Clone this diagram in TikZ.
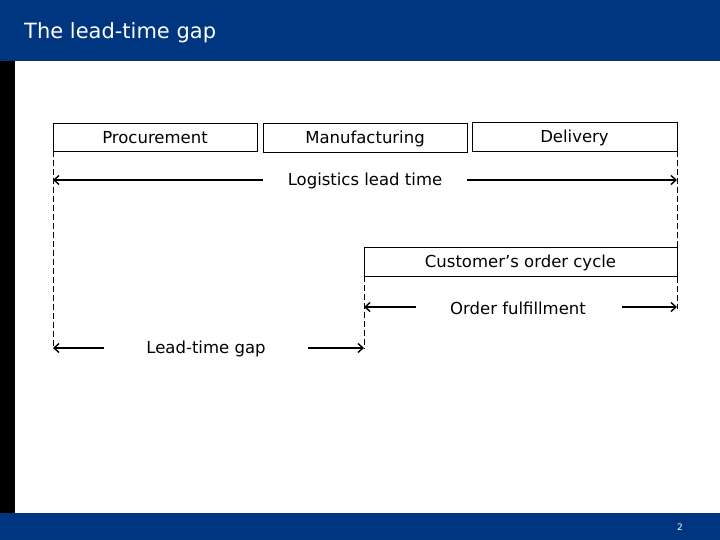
\documentclass[tikz,border=0pt]{standalone}
\usepackage{fontspec}
\setmainfont{DejaVu Sans}
\usetikzlibrary{arrows.meta}
\definecolor{barblue}{HTML}{003580}
\tikzset{
  stage/.style={draw=black, line width=0.6bp, minimum height=28bp, inner sep=0pt, text depth=0pt, font=\fontsize{16.5bp}{18bp}\selectfont},
  lbl/.style={inner sep=2bp, font=\fontsize{16.5bp}{18bp}\selectfont},
  span/.style={line width=1.4bp, -{Straight Barb[length=5bp,width=9bp]}},
  guide/.style={dashed, line width=0.5bp, dash pattern=on 6bp off 3bp}
}
\begin{document}
\begin{tikzpicture}[x=1bp, y=-1bp]
    \useasboundingbox (0,0) rectangle (720,540);
    % frame
    \fill [barblue] (0,0) rectangle (720,61);
    \fill [barblue] (0,513) rectangle (720,540);
    \fill [black] (0,61) rectangle (15,513);
    \node [anchor=west, inner sep=0pt, text=white, font=\fontsize{21bp}{24bp}\selectfont] (title) at (24,33) {The lead-time gap};
    \node [text=white, font=\fontsize{9bp}{10bp}\selectfont] (page) at (680,527) {2};
    % stages
    \node [stage, minimum width=204bp] (proc) at (155,137) {Procurement};
    \node [stage, minimum width=204bp, minimum height=29bp] (manu) at (365,137.5) {Manufacturing};
    \node [stage, minimum width=205bp, minimum height=29bp] (deli) at (574.5,136.5) {Delivery};
    \node [stage, minimum width=313bp, minimum height=29bp] (cust) at (520.5,261.5) {Customer’s order cycle};
    % guide lines
    \coordinate (l1) at (53,151);   \coordinate (l2) at (53,349);
    \coordinate (r1) at (677,151);  \coordinate (r2) at (677,309);
    \coordinate (m1) at (364,276);  \coordinate (m2) at (364,349);
    \draw [guide] (l1) -- (l2);
    \draw [guide] (r1) -- (r2);
    \draw [guide] (m1) -- (m2);
    % spans
    \node [lbl] (logi) at (365,181) {Logistics lead time};
    \coordinate (logiL) at (263,180); \coordinate (logiR) at (467,180);
    \coordinate (logiA) at (53,180);  \coordinate (logiB) at (677,180);
    \draw [span] (logiL) -- (logiA);
    \draw [span] (logiR) -- (logiB);
    \node [lbl] (ful) at (518,308) {Order fulfillment};
    \coordinate (fulL) at (416,307); \coordinate (fulR) at (622,307);
    \coordinate (fulA) at (364,307); \coordinate (fulB) at (677,307);
    \draw [span] (fulL) -- (fulA);
    \draw [span] (fulR) -- (fulB);
    \node [lbl] (gap) at (206,349) {Lead-time gap};
    \coordinate (gapL) at (104,348); \coordinate (gapR) at (308,348);
    \coordinate (gapA) at (53,348);  \coordinate (gapB) at (364,348);
    \draw [span] (gapL) -- (gapA);
    \draw [span] (gapR) -- (gapB);
\end{tikzpicture}
\end{document}
